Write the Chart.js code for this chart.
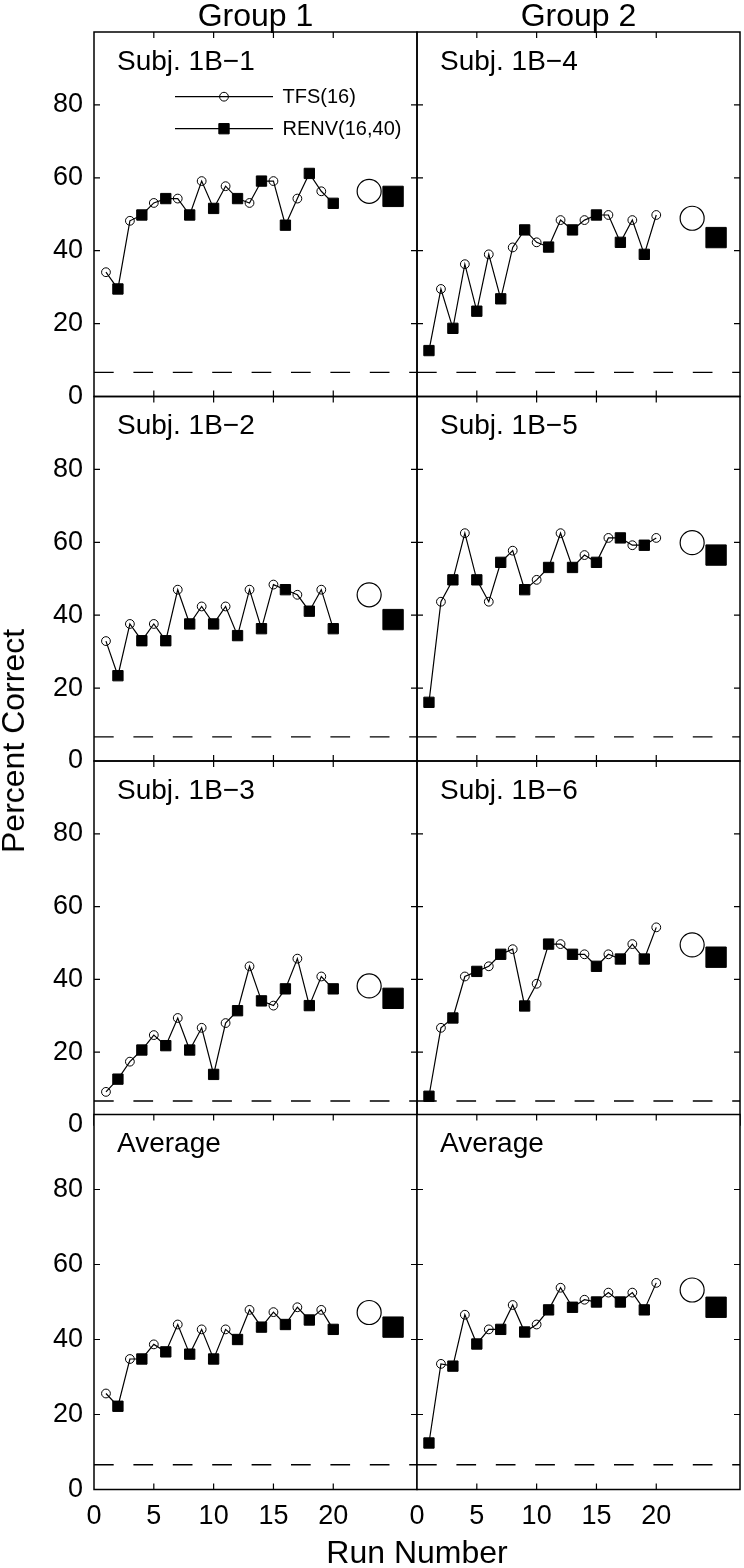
<!DOCTYPE html>
<html>
<head>
<meta charset="utf-8">
<script src="https://cdn.jsdelivr.net/npm/chart.js@4.4.0/dist/chart.umd.min.js"></script>
<style>
html,body{margin:0;padding:0;background:#fff;}
#fig{position:relative;width:744px;height:1568px;overflow:hidden;background:#fff;font-family:"Liberation Sans",Arial,sans-serif;}
#fig canvas{position:absolute;left:0;top:0;}
.t{position:absolute;color:#000;white-space:nowrap;font-size:32px;line-height:1;transform:translate(-50%,-50%);}
</style>
</head>
<body>
<div id="fig">
<canvas id="c0" width="744" height="1568"></canvas>
<canvas id="c1" width="744" height="1568"></canvas>
<canvas id="c2" width="744" height="1568"></canvas>
<canvas id="c3" width="744" height="1568"></canvas>
<canvas id="c4" width="744" height="1568"></canvas>
<canvas id="c5" width="744" height="1568"></canvas>
<canvas id="c6" width="744" height="1568"></canvas>
<canvas id="c7" width="744" height="1568"></canvas>
<div class="t" id="gt0" style="left:255.5px;top:15px;"></div>
<div class="t" id="gt1" style="left:578.5px;top:15px;"></div>
<div class="t" id="xt" style="left:417px;top:1552px;"></div>
<div class="t" id="yt" style="left:13px;top:741px;transform:translate(-50%,-50%) rotate(-90deg);"></div>
</div>
<script>
// ---------------- data ----------------
const runNumbers = [1,2,3,4,5,6,7,8,9,10,11,12,13,14,15,16,17,18,19,20];
const subj1B1 = [34.1,29.5,48.2,49.8,53.1,54.3,54.3,49.8,59.1,51.6,57.7,54.3,53.1,59.1,59.1,47.0,54.3,61.2,56.3,53.0];
const subj1B2 = [32.9,23.4,37.6,33.0,37.6,33.0,47.0,37.6,42.4,37.6,42.4,34.4,47.0,36.3,48.4,47.0,45.6,41.1,47.0,36.3];
const subj1B3 = [9.1,12.6,17.4,20.6,24.7,21.8,29.4,20.6,26.7,13.9,28.0,31.4,43.6,34.1,32.8,37.4,45.7,32.8,40.8,37.4];
const average1 = [25.6,22.2,34.8,34.8,38.7,36.7,44.0,36.1,42.7,34.8,42.7,40.0,47.9,43.3,47.3,44.0,48.6,45.2,47.9,42.7];
const subj1B4 = [12.6,29.5,18.7,36.3,23.4,39.0,26.8,40.9,45.7,42.3,41.0,48.4,45.7,48.4,49.8,49.8,42.3,48.4,39.0,49.8];
const subj1B5 = [16.1,43.7,49.7,62.5,49.7,43.7,54.5,57.7,47.0,49.7,53.1,62.5,53.1,56.5,54.5,61.2,61.2,59.2,59.2,61.2];
const subj1B6 = [7.9,26.7,29.4,40.8,42.2,43.6,46.9,48.3,32.7,38.8,49.7,49.7,46.9,46.9,43.6,46.9,45.6,49.7,45.6,54.3];
const average2 = [12.4,33.5,32.9,46.6,38.8,42.7,42.7,49.2,42.0,44.0,47.9,53.8,48.6,50.6,50.0,52.5,50.0,52.5,47.9,55.1];

// panels in reading order (row by row, Group 1 left, Group 2 right)
const panelLabels = ['Subj. 1B\u22121','Subj. 1B\u22124','Subj. 1B\u22122','Subj. 1B\u22125','Subj. 1B\u22123','Subj. 1B\u22126','Average','Average'];
const panelSeries = [subj1B1, subj1B4, subj1B2, subj1B5, subj1B3, subj1B6, average1, average2];
const meanTFS  = [56.3, 48.9, 45.6, 59.9, 38.2, 49.5, 47.2, 53.2];
const meanRENV = [54.9, 43.6, 38.8, 56.5, 34.8, 46.1, 43.3, 48.6];
const meanRunTFS = 23, meanRunRENV = 25;
const groupTFSOnOddRuns = [true, false];
const chanceLevel = 6.6;
const seriesNames = ['TFS(16)', 'RENV(16,40)'];
const groupTitles = ['Group 1', 'Group 2'];
const xAxisTitle = 'Run Number';
const yAxisTitle = 'Percent Correct';
const xTickLabels = [0,5,10,15,20];
const yTickLabels = [0,20,40,60,80];
const xTickMarks = [5,10,15,20];
const yTickMarks = [20,40,60,80];
const xRange = [0, 27];
const yRange = [0, 100];

// ---------------- layout ----------------
const W = 744, H = 1568;
const colLeft = [94, 417], colRight = [417, 740];
const rowTop = [32, 396.5, 761, 1114.5], rowBottom = [396.5, 761, 1125, 1489.5];
const FONT = '"Liberation Sans", Arial, sans-serif';
const TL = 6;

document.getElementById('gt0').textContent = groupTitles[0];
document.getElementById('gt1').textContent = groupTitles[1];
document.getElementById('xt').textContent = xAxisTitle;
document.getElementById('yt').textContent = yAxisTitle;

Chart.defaults.font.family = FONT;
Chart.defaults.color = '#000';

const tfsStyle = {pointStyle:'circle', pointRadius:4.4, pointBorderWidth:1, pointBorderColor:'#000', pointBackgroundColor:'rgba(0,0,0,0)'};
const renvStyle = {pointStyle:'rect', pointRadius:7.3, pointBorderWidth:1, pointBorderColor:'#000', pointBackgroundColor:'#000'};

const panelDecor = {
  id: 'panelDecor',
  beforeDraw(chart, args, o) {
    if (o.cover) {
      const a = chart.chartArea, c = chart.ctx;
      c.save(); c.fillStyle = '#fff';
      c.fillRect(a.left, a.top, a.right - a.left, a.bottom - a.top);
      c.restore();
    }
  },
  afterDatasetsDraw(chart, args, o) {
    const c = chart.ctx, a = chart.chartArea, xs = chart.scales.x, ys = chart.scales.y;
    c.save();
    c.strokeStyle = '#000';
    c.lineWidth = 1.2;
    c.beginPath();
    xTickMarks.forEach(v => {
      const p = xs.getPixelForValue(v);
      c.moveTo(p, a.bottom); c.lineTo(p, a.bottom - TL);
      c.moveTo(p, a.top); c.lineTo(p, a.top + TL);
    });
    yTickMarks.forEach(v => {
      const p = ys.getPixelForValue(v);
      c.moveTo(a.left, p); c.lineTo(a.left + TL, p);
      c.moveTo(a.right, p); c.lineTo(a.right - TL, p);
    });
    c.stroke();
    c.lineWidth = 1.5;
    c.strokeRect(a.left, a.top, a.right - a.left, a.bottom - a.top);
    c.fillStyle = '#000';
    c.font = '28px ' + FONT;
    c.textAlign = 'left';
    c.textBaseline = 'alphabetic';
    c.fillText(o.label, a.left + 23, a.top + 37.5);
    if (o.legend) {
      const x0 = a.left + 81, x1 = a.left + 179, xm = a.left + 130;
      const rows = [a.top + 64.7, a.top + 96.7];
      const styles = [tfsStyle, renvStyle];
      c.font = '20px ' + FONT;
      c.textBaseline = 'middle';
      rows.forEach((y, i) => {
        c.strokeStyle = '#000'; c.lineWidth = 1.2;
        c.beginPath(); c.moveTo(x0, y); c.lineTo(x1, y); c.stroke();
        const s = styles[i];
        c.fillStyle = s.pointBackgroundColor; c.strokeStyle = s.pointBorderColor; c.lineWidth = s.pointBorderWidth;
        Chart.helpers.drawPoint(c, {pointStyle: s.pointStyle, radius: s.pointRadius, rotation: 0, borderWidth: s.pointBorderWidth}, xm, y);
        c.fillStyle = '#000';
        c.fillText(seriesNames[i], a.left + 188.5, y + 1);
      });
    }
    c.restore();
  }
};

function makePanel(k) {
  const row = Math.floor(k / 2), col = k % 2;
  const vals = panelSeries[k];
  const tfsOdd = groupTFSOnOddRuns[col];
  const tfs = [], renv = [], all = [];
  runNumbers.forEach((r, i) => {
    const p = {x: r, y: vals[i]};
    all.push(p);
    ((r % 2 === 1) === tfsOdd ? tfs : renv).push(p);
  });
  const showY = col === 0, showX = row === 3;
  const yAxisW = showY ? 94 : 0;
  const xAxisH = showX ? H - rowBottom[3] : 0;
  const padding = {
    left: colLeft[col] - yAxisW,
    right: W - colRight[col],
    top: rowTop[row],
    bottom: H - rowBottom[row] - xAxisH
  };
  return new Chart(document.getElementById('c' + k), {
    type: 'line',
    data: {
      datasets: [
        Object.assign({label: seriesNames[0], data: tfs, showLine: false}, tfsStyle),
        Object.assign({label: seriesNames[1], data: renv, showLine: false}, renvStyle),
        {label: 'mean ' + seriesNames[0], data: [{x: meanRunTFS, y: meanTFS[k]}], showLine: false,
          pointStyle: 'circle', pointRadius: 12, pointBorderWidth: 1.2, pointBorderColor: '#000', pointBackgroundColor: 'rgba(0,0,0,0)'},
        {label: 'mean ' + seriesNames[1], data: [{x: meanRunRENV, y: meanRENV[k]}], showLine: false,
          pointStyle: 'rect', pointRadius: 14.4, pointBorderWidth: 1, pointBorderColor: '#000', pointBackgroundColor: '#000'},
        {label: 'runs', data: all, borderColor: '#000', borderWidth: 1.2, pointRadius: 0, tension: 0, fill: false},
        {label: 'chance', data: [{x: xRange[0], y: chanceLevel}, {x: xRange[1], y: chanceLevel}], borderColor: '#000',
          borderWidth: 1.3, borderDash: [19.7, 19.7], pointRadius: 0, fill: false}
      ]
    },
    options: {
      responsive: false,
      maintainAspectRatio: false,
      devicePixelRatio: 1,
      animation: false,
      events: [],
      layout: {padding: padding, autoPadding: false},
      scales: {
        x: {
          type: 'linear', position: 'bottom', min: xRange[0], max: xRange[1],
          display: showX,
          afterFit(s) { s.height = xAxisH; },
          afterBuildTicks(s) { s.ticks = xTickLabels.map(v => ({value: v})); },
          grid: {display: false, drawTicks: false},
          border: {display: false},
          ticks: {font: {size: 27, family: FONT}, color: '#000', padding: 11, maxRotation: 0, autoSkip: false}
        },
        y: {
          type: 'linear', position: 'left', min: yRange[0], max: yRange[1],
          display: showY,
          afterFit(s) { s.width = yAxisW; },
          afterBuildTicks(s) { s.ticks = yTickLabels.map(v => ({value: v})); },
          grid: {display: false, drawTicks: false},
          border: {display: false},
          ticks: {font: {size: 27, family: FONT}, color: '#000', padding: 11}
        }
      },
      plugins: {
        legend: {display: false},
        tooltip: {enabled: false},
        panelDecor: {label: panelLabels[k], legend: k === 0, cover: row === 3}
      }
    },
    plugins: [panelDecor]
  });
}

for (let k = 0; k < 8; k++) makePanel(k);
</script>
</body>
</html>
